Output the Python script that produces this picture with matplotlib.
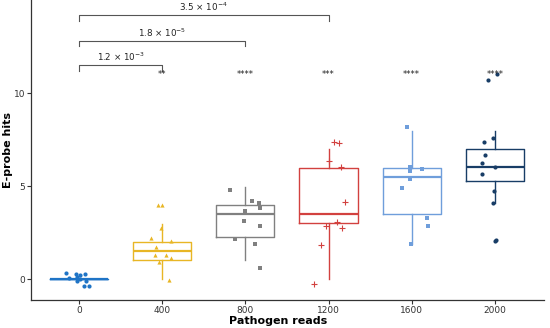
import matplotlib
matplotlib.use("Agg")
import matplotlib.pyplot as plt

# groups on the x axis
reads = ["0", "400", "800", "1200", "1600", "2000"]
colors = ["#1f74c6", "#e8b625", "#808080", "#d2413f", "#6f9edb", "#183d66"]
markers = ["o", "^", "s", "+", "s", "o"]

# box statistics
q1 = [0.0, 1.0, 2.24, 2.99, 3.49, 5.27]
med = [0.0, 1.5, 3.49, 3.51, 5.5, 6.0]
q3 = [0.0, 2.0, 4.0, 5.98, 5.98, 6.97]
whis_lo = [0.0, 0.0, 1.02, 0.0, 1.86, 4.1]
whis_hi = [0.0, 2.96, 4.96, 6.97, 7.96, 7.96]

# jittered points: horizontal offset (in group widths) and value
jit_0 = [-0.16, -0.12, -0.04, 0.01, 0.07, -0.02, 0.01, 0.08, 0.06, 0.12, -0.02]
val_0 = [0.32, 0.05, 0.27, 0.2, 0.25, -0.09, 0.0, -0.09, -0.38, -0.39, 0.1]
jit_400 = [-0.05, 0.0, -0.02, -0.14, 0.10, -0.08, -0.09, 0.04, 0.11, -0.04, 0.08]
val_400 = [3.98, 3.98, 2.74, 2.2, 2.03, 1.72, 1.29, 1.29, 1.15, 0.91, -0.04]
jit_800 = [-0.19, 0.08, 0.16, 0.17, -0.01, -0.02, 0.17, -0.12, 0.11, 0.17]
val_800 = [4.77, 4.21, 4.07, 3.8, 3.64, 3.12, 2.87, 2.15, 1.9, 0.61]
jit_1200 = [0.06, 0.12, 0.01, 0.15, 0.20, 0.10, -0.03, 0.16, -0.09, -0.17]
val_1200 = [7.38, 7.29, 6.34, 6.04, 4.12, 3.08, 2.87, 2.76, 1.83, -0.27]
jit_1600 = [-0.06, -0.02, -0.02, 0.12, -0.02, -0.12, 0.18, 0.20, -0.01]
val_1600 = [8.19, 6.04, 5.79, 5.91, 5.38, 4.87, 3.3, 2.83, 1.86]
jit_2000 = [-0.13, -0.02, -0.12, -0.16, 0.0, -0.16, -0.01, -0.02, 0.0, 0.01, -0.08, 0.02]
val_2000 = [7.37, 7.6, 6.68, 6.22, 6.02, 5.63, 4.73, 4.1, 2.04, 2.1, 10.68, 11.0]

jitters = [jit_0, jit_400, jit_800, jit_1200, jit_1600, jit_2000]
values = [val_0, val_400, val_800, val_1200, val_1600, val_2000]

stars = ["", "**", "****", "***", "****", "****"]
star_y = 11.02

# pairwise comparisons against group 0
comp_to = [1, 2, 3]
comp_y = [11.5, 12.81, 14.18]
comp_labels = [r"1.2 × 10$^{-3}$", r"1.8 × 10$^{-5}$", r"3.5 × 10$^{-4}$"]

fig = plt.figure(figsize=(5.5, 3.28), dpi=100)
ax = fig.add_axes([0.056, 0.085, 0.933, 0.915])

for i in range(len(reads)):
    st = dict(q1=q1[i], med=med[i], q3=q3[i], whislo=whis_lo[i], whishi=whis_hi[i], fliers=[])
    c = colors[i]
    ax.bxp([st], positions=[i], widths=0.7, showcaps=False, showfliers=False,
           boxprops=dict(color=c, lw=1.0),
           whiskerprops=dict(color=c, lw=1.0),
           medianprops=dict(color=c, lw=1.6))
    xs = [i + j for j in jitters[i]]
    if markers[i] == "+":
        ax.scatter(xs, values[i], marker="+", s=22, color=c, lw=0.8, zorder=3)
    else:
        ax.scatter(xs, values[i], marker=markers[i], s=9, color=c, lw=0, zorder=3)
    if stars[i]:
        ax.text(i, star_y, stars[i], ha="center", va="center", fontsize=6, color="#222222")

for k, j in enumerate(comp_to):
    y = comp_y[k]
    ax.plot([0, 0, j, j], [y - 0.3, y, y, y - 0.3], color="#555555", lw=0.8)
    ax.text(j / 2, y + 0.12, comp_labels[k], ha="center", va="bottom", fontsize=6.3, color="#222222")

ax.set_xlim(-0.58, 5.59)
ax.set_ylim(-1.13, 15.0)
ax.set_xticks(range(len(reads)))
ax.set_xticklabels(reads)
ax.set_yticks([0, 5, 10])
ax.tick_params(labelsize=6.5, length=3, pad=1, color="#333333", labelcolor="#333333")
for s in ["top", "right"]:
    ax.spines[s].set_visible(False)
for s in ["left", "bottom"]:
    ax.spines[s].set_color("#333333")
    ax.spines[s].set_linewidth(0.9)

fig.text(278 / 550, 7 / 328, "Pathogen reads", ha="center", va="center",
         fontsize=8, fontweight="bold")
fig.text(8 / 550, 1 - 150 / 328, "E-probe hits", ha="center", va="center",
         rotation=90, fontsize=8, fontweight="bold")

fig.savefig("out.png", dpi=100)
